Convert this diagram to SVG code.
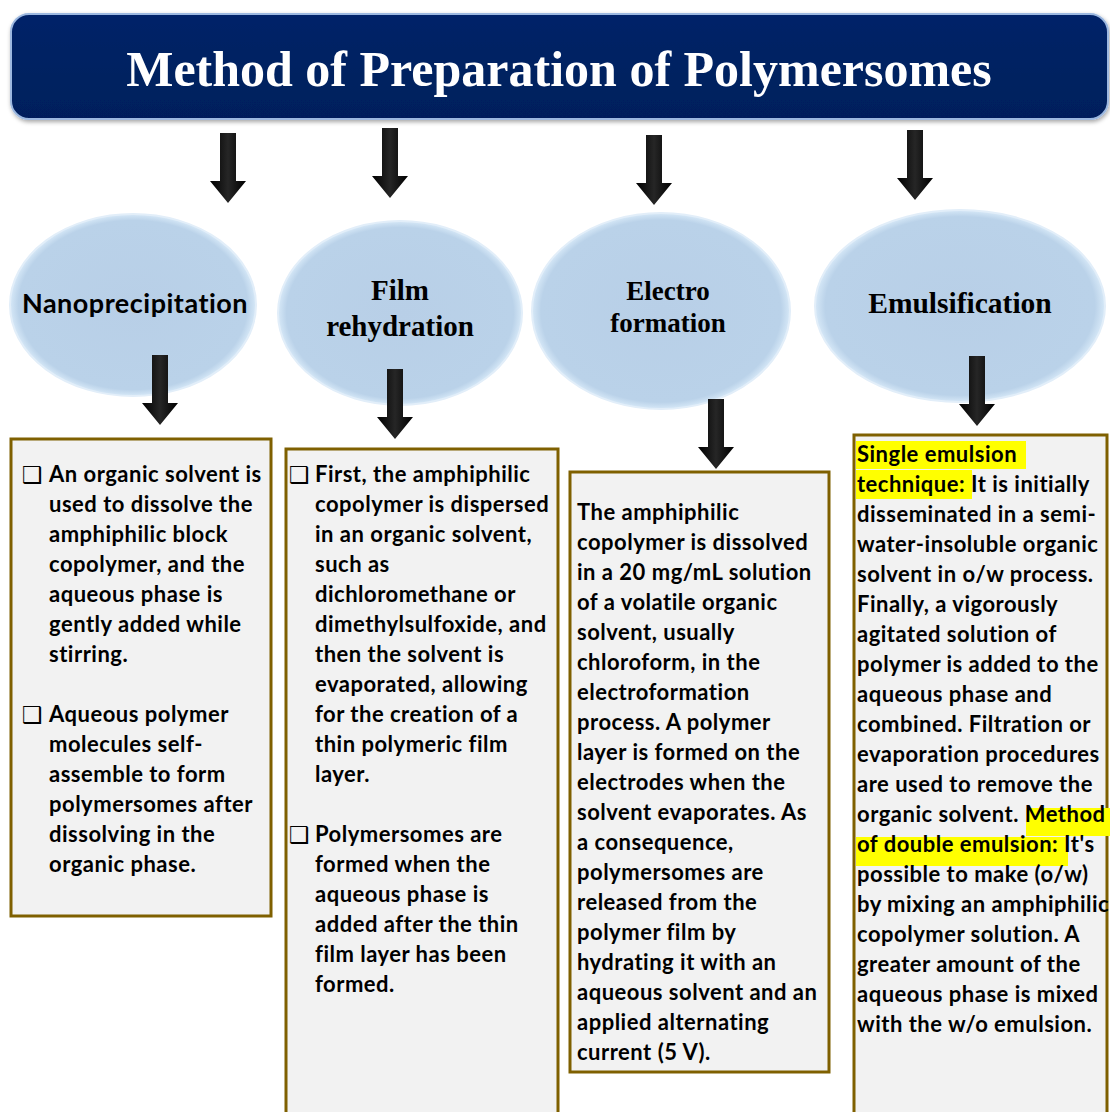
<svg xmlns="http://www.w3.org/2000/svg" xmlns:xlink="http://www.w3.org/1999/xlink" width="1110" height="1112" viewBox="0 0 1110 1112">
<defs>
<style>
.box{fill:#f2f2f2;stroke:#7f6000;stroke-width:3}
.ell{fill:url(#eg);stroke:#e2eef9;stroke-width:2}
.bt{font-family:Lato,"Open Sans",sans-serif;font-weight:bold;font-size:22px;letter-spacing:0.5px;fill:#000}
.cb{font-family:"DejaVu Sans",sans-serif;font-size:23px;fill:#000}
.st{font-family:"Liberation Serif","Times New Roman",serif;font-weight:bold;fill:#000;text-anchor:middle}
.hl{fill:#ffff00}
</style>
<radialGradient id="eg" cx="50%" cy="50%" r="50%">
<stop offset="0" stop-color="#b8cfe7"/>
<stop offset="0.93" stop-color="#bad2e9"/>
<stop offset="1" stop-color="#d6e8f7"/>
</radialGradient>
<linearGradient id="ag" x1="0" y1="0" x2="1" y2="0">
<stop offset="0" stop-color="#000"/>
<stop offset="0.5" stop-color="#262626"/>
<stop offset="1" stop-color="#000"/>
</linearGradient>
<linearGradient id="hg" x1="0" y1="0" x2="0" y2="1">
<stop offset="0" stop-color="#032468"/>
<stop offset="1" stop-color="#001f5c"/>
</linearGradient>
<path id="arr" d="M-8,0 H8 V48 H18 L0,70 L-18,48 H-8 Z" fill="url(#ag)"/>
<filter id="sh" x="-5%" y="-10%" width="110%" height="130%">
<feDropShadow dx="1" dy="2" stdDeviation="2" flood-color="#000" flood-opacity="0.35"/>
</filter>
</defs>
<rect width="1110" height="1112" fill="#fff"/>

<g id="header">
<rect x="11" y="14" width="1097" height="105" rx="18" ry="18" fill="url(#hg)" stroke="#9cb8e0" stroke-width="2" filter="url(#sh)"/>
<text x="559" y="86" class="st" style="fill:#fff;font-size:50px">Method of Preparation of Polymersomes</text>
</g>

<g id="connectors">
<use xlink:href="#arr" x="228" y="133"/>
<use xlink:href="#arr" x="390" y="128"/>
<use xlink:href="#arr" x="654" y="135"/>
<use xlink:href="#arr" x="915" y="130"/>
</g>

<g id="node-nanoprecipitation">
<ellipse class="ell" cx="133" cy="305" rx="123" ry="91"/>
<text x="135" y="313" style="font-family:Lato,'Open Sans',sans-serif;font-weight:bold;font-size:27px;letter-spacing:0.5px;text-anchor:middle">Nanoprecipitation</text>
</g>
<g id="node-film-rehydration">
<ellipse class="ell" cx="400" cy="313" rx="122" ry="92"/>
<text class="st" style="font-size:29px"><tspan x="400" y="300">Film</tspan><tspan x="400" y="336">rehydration</tspan></text>
</g>
<g id="node-electroformation">
<ellipse class="ell" cx="661" cy="311" rx="129" ry="98"/>
<text class="st" style="font-size:27px"><tspan x="668" y="300">Electro</tspan><tspan x="668" y="332">formation</tspan></text>
</g>
<g id="node-emulsification">
<ellipse class="ell" cx="960" cy="306" rx="145" ry="96"/>
<text class="st" x="960" y="313" style="font-size:29.5px">Emulsification</text>
</g>

<g id="connectors-lower">
<use xlink:href="#arr" x="160" y="355"/>
<use xlink:href="#arr" x="395" y="369"/>
<use xlink:href="#arr" x="716" y="399"/>
<use xlink:href="#arr" x="977" y="356"/>
</g>

<g id="box-nanoprecipitation">
<rect class="box" x="11" y="439" width="260" height="477"/>
<text class="cb" x="22" y="483">❑</text>
<text class="bt">
<tspan x="49" y="482">An organic solvent is</tspan>
<tspan x="49" y="512">used to dissolve the</tspan>
<tspan x="49" y="542">amphiphilic block</tspan>
<tspan x="49" y="572">copolymer, and the</tspan>
<tspan x="49" y="602">aqueous phase is</tspan>
<tspan x="49" y="632">gently added while</tspan>
<tspan x="49" y="662">stirring.</tspan>
</text>
<text class="cb" x="22" y="723">❑</text>
<text class="bt">
<tspan x="49" y="722">Aqueous polymer</tspan>
<tspan x="49" y="752">molecules self-</tspan>
<tspan x="49" y="782">assemble to form</tspan>
<tspan x="49" y="812">polymersomes after</tspan>
<tspan x="49" y="842">dissolving in the</tspan>
<tspan x="49" y="872">organic phase.</tspan>
</text>
</g>

<g id="box-film-rehydration">
<rect class="box" x="286" y="449" width="272" height="675"/>
<text class="cb" x="289" y="483">❑</text>
<text class="bt">
<tspan x="315" y="482">First, the amphiphilic</tspan>
<tspan x="315" y="512">copolymer is dispersed</tspan>
<tspan x="315" y="542">in an organic solvent,</tspan>
<tspan x="315" y="572">such as</tspan>
<tspan x="315" y="602">dichloromethane or</tspan>
<tspan x="315" y="632">dimethylsulfoxide, and</tspan>
<tspan x="315" y="662">then the solvent is</tspan>
<tspan x="315" y="692">evaporated, allowing</tspan>
<tspan x="315" y="722">for the creation of a</tspan>
<tspan x="315" y="752">thin polymeric film</tspan>
<tspan x="315" y="782">layer.</tspan>
</text>
<text class="cb" x="289" y="843">❑</text>
<text class="bt">
<tspan x="315" y="842">Polymersomes are</tspan>
<tspan x="315" y="872">formed when the</tspan>
<tspan x="315" y="902">aqueous phase is</tspan>
<tspan x="315" y="932">added after the thin</tspan>
<tspan x="315" y="962">film layer has been</tspan>
<tspan x="315" y="992">formed.</tspan>
</text>
</g>

<g id="box-electroformation">
<rect class="box" x="570" y="472" width="259" height="600"/>
<text class="bt">
<tspan x="577" y="520">The amphiphilic</tspan>
<tspan x="577" y="550">copolymer is dissolved</tspan>
<tspan x="577" y="580">in a 20 mg/mL solution</tspan>
<tspan x="577" y="610">of a volatile organic</tspan>
<tspan x="577" y="640">solvent, usually</tspan>
<tspan x="577" y="670">chloroform, in the</tspan>
<tspan x="577" y="700">electroformation</tspan>
<tspan x="577" y="730">process. A polymer</tspan>
<tspan x="577" y="760">layer is formed on the</tspan>
<tspan x="577" y="790">electrodes when the</tspan>
<tspan x="577" y="820">solvent evaporates. As</tspan>
<tspan x="577" y="850">a consequence,</tspan>
<tspan x="577" y="880">polymersomes are</tspan>
<tspan x="577" y="910">released from the</tspan>
<tspan x="577" y="940">polymer film by</tspan>
<tspan x="577" y="970">hydrating it with an</tspan>
<tspan x="577" y="1000">aqueous solvent and an</tspan>
<tspan x="577" y="1030">applied alternating</tspan>
<tspan x="577" y="1060">current (5 V).</tspan>
</text>
</g>

<g id="box-emulsification">
<rect class="box" x="854" y="435" width="253" height="690"/>
<rect class="hl" x="856" y="441" width="170" height="28"/>
<rect class="hl" x="856" y="470" width="116" height="29"/>
<rect class="hl" x="1026" y="808" width="84" height="28"/>
<rect class="hl" x="856" y="837" width="212" height="29"/>
<text class="bt">
<tspan x="857" y="462">Single emulsion</tspan>
<tspan x="857" y="492">technique: It is initially</tspan>
<tspan x="857" y="522">disseminated in a semi-</tspan>
<tspan x="857" y="552">water-insoluble organic</tspan>
<tspan x="857" y="582">solvent in o/w process.</tspan>
<tspan x="857" y="612">Finally, a vigorously</tspan>
<tspan x="857" y="642">agitated solution of</tspan>
<tspan x="857" y="672">polymer is added to the</tspan>
<tspan x="857" y="702">aqueous phase and</tspan>
<tspan x="857" y="732">combined. Filtration or</tspan>
<tspan x="857" y="762">evaporation procedures</tspan>
<tspan x="857" y="792">are used to remove the</tspan>
<tspan x="857" y="822">organic solvent. Method</tspan>
<tspan x="857" y="852">of double emulsion: It's</tspan>
<tspan x="857" y="882">possible to make (o/w)</tspan>
<tspan x="857" y="912">by mixing an amphiphilic</tspan>
<tspan x="857" y="942">copolymer solution. A</tspan>
<tspan x="857" y="972">greater amount of the</tspan>
<tspan x="857" y="1002">aqueous phase is mixed</tspan>
<tspan x="857" y="1032">with the w/o emulsion.</tspan>
</text>
</g>
</svg>
